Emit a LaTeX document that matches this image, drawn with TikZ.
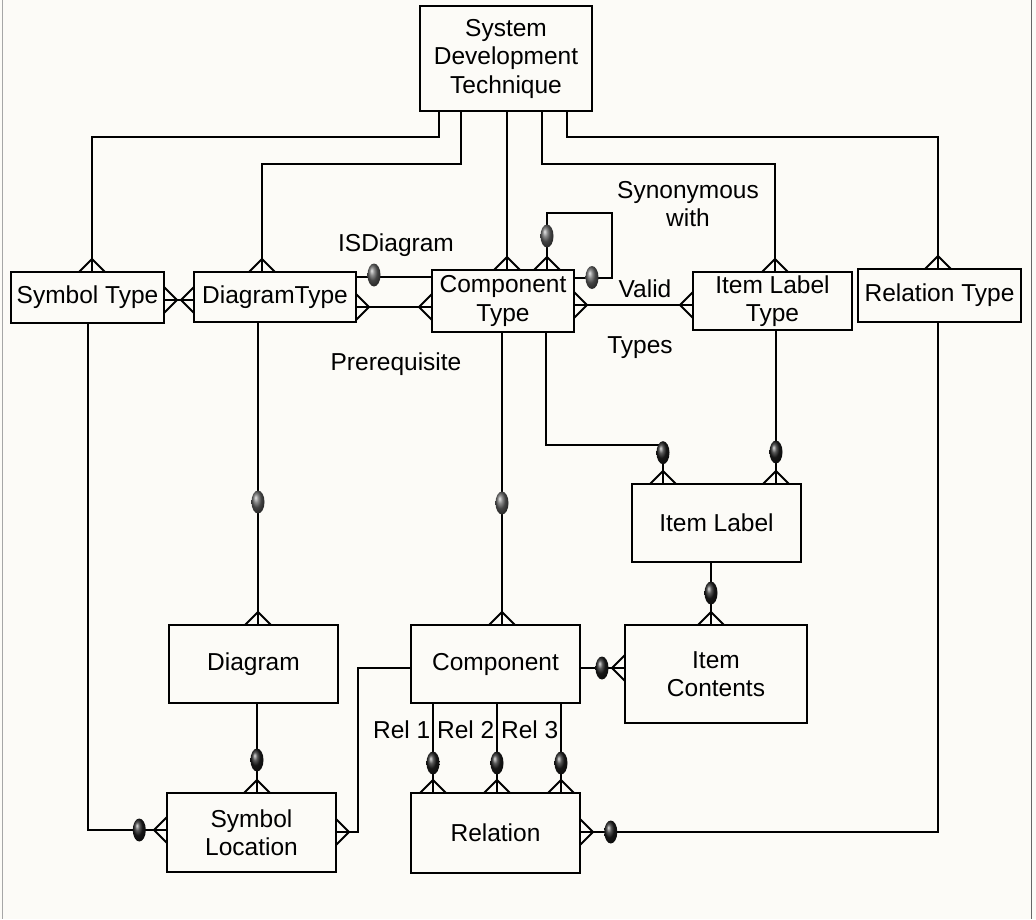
\documentclass[tikz,border=0pt]{standalone}
\usepackage{fontspec}
\setmainfont{Liberation Sans}
\usetikzlibrary{calc}

% one-or-many markers
\tikzset{
  link/.style={line width=1.9pt, line join=miter},
  ent/.style={draw, line width=2.2pt, rectangle, inner sep=0pt, outer sep=0pt,
              align=center, font=\fontsize{24.5}{28.5}\selectfont},
  lbl/.style={inner sep=0pt, align=center, font=\fontsize{24.5}{28.5}\selectfont},
  crowT/.pic={\draw[link] (-13,0) -- (0,-13) -- (13,0);},
  crowL/.pic={\draw[link] (0,-13) -- (-13,0) -- (0,13);},
  crowR/.pic={\draw[link] (0,-13) -- (13,0) -- (0,13);},
}
% optionality ovals
\newcommand\lightdot[1]{\shade[ball color=black!62] (#1) ellipse [x radius=6.5pt, y radius=11.5pt];}
\newcommand\darkdot[1]{\shade[ball color=black!88] (#1) ellipse [x radius=6.5pt, y radius=11.5pt];}

\begin{document}
\begin{tikzpicture}[x=1pt,y=-1pt]
% page
\fill[color={rgb,255:red,252;green,251;blue,247}] (0,0) rectangle (1036,919);
\useasboundingbox (0,0) rectangle (1036,919);
\draw[black!35, line width=1pt] (2.5,0) -- (2.5,919);
\draw[black!60, line width=1pt] (1031,0) -- (1031,919);

% entities
\node[ent, minimum width=172, minimum height=105] (sdt) at (506,58.5) {System\\Development\\Technique};
\node[ent, minimum width=153, minimum height=51] (symt) at (87.5,297.5) {Symbol Type};
\node[ent, minimum width=162, minimum height=50] (diat) at (275,297) {DiagramType};
\node[ent, minimum width=142, minimum height=62] (ctype) at (503,301) {Component\\Type};
\node[ent, minimum width=159, minimum height=58] (iltype) at (772.5,301) {Item Label\\Type};
\node[ent, minimum width=163, minimum height=53] (reltype) at (939.5,295.5) {Relation Type};
\node[ent, minimum width=169, minimum height=78] (ilabel) at (716.5,523) {Item Label};
\node[ent, minimum width=182, minimum height=98] (icont) at (716,674) {Item\\Contents};
\node[ent, minimum width=169, minimum height=78] (comp) at (495.5,664) {Component};
\node[ent, minimum width=169, minimum height=78] (diag) at (253.5,664) {Diagram};
\node[ent, minimum width=169, minimum height=79] (symloc) at (251.5,832.5) {Symbol\\Location};
\node[ent, minimum width=169, minimum height=80] (rel) at (495.5,833) {Relation};

% relationship names
\node[lbl] (isdiag) at (396,245) {ISDiagram};
\node[lbl] (prereq) at (396,364) {Prerequisite};
\node[lbl] (synon) at (688,204) {Synonymous\\with};
\node[lbl] (valid) at (645,289) {Valid};
\node[lbl] (types) at (640,348) {Types};
\node[lbl, anchor=east] (rel1) at (430.5,730) {Rel 1};
\node[lbl, anchor=east] (rel2) at (494.5,730) {Rel 2};
\node[lbl, anchor=east] (rel3) at (558.5,730) {Rel 3};

% technique to its types
\draw[link] (sdt.south -| 439,0) -- (439,137) -- (92,137) -- (symt.north -| 92,0);
\pic at (symt.north -| 92,0) {crowT};
\draw[link] (sdt.south -| 461,0) -- (461,164) -- (262,164) -- (diat.north -| 262,0);
\pic at (diat.north -| 262,0) {crowT};
\draw[link] (sdt.south -| 507,0) -- (ctype.north -| 507,0);
\pic at (ctype.north -| 507,0) {crowT};
\draw[link] (sdt.south -| 542,0) -- (542,164) -- (775,164) -- (iltype.north -| 775,0);
\pic at (iltype.north -| 775,0) {crowT};
\draw[link] (sdt.south -| 567,0) -- (567,137) -- (938,137) -- (reltype.north -| 938,0);
\pic at (reltype.north -| 938,0) {crowT};

% symbol type -- diagram type
\draw[link] (symt.east |- 0,300) -- (diat.west |- 0,300);
\pic at (symt.east |- 0,300) {crowR};
\pic at (diat.west |- 0,300) {crowL};

% ISDiagram and Prerequisite
\draw[link] (diat.east |- 0,277) -- (ctype.west |- 0,277);
\lightdot{374,275}
\draw[link] (diat.east |- 0,307) -- (ctype.west |- 0,307);
\pic at (diat.east |- 0,307) {crowR};
\pic at (ctype.west |- 0,307) {crowL};

% Synonymous with (self loop)
\draw[link] (ctype.north -| 547,0) -- (547,213) -- (612,213) -- (612,278) -- (ctype.east |- 0,278);
\pic at (ctype.north -| 547,0) {crowT};
\lightdot{547,236}
\lightdot{592,277.5}

% Valid Types
\draw[link] (ctype.east |- 0,305) -- (iltype.west |- 0,305);
\pic at (ctype.east |- 0,305) {crowR};
\pic at (iltype.west |- 0,305) {crowL};

% component type / item label type to item label
\draw[link] (ctype.south -| 546,0) -- (546,445) -- (663,445) -- (ilabel.north -| 663,0);
\darkdot{663,452.7}
\pic at (ilabel.north -| 663,0) {crowT};
\draw[link] (iltype.south -| 776,0) -- (ilabel.north -| 776,0);
\darkdot{776,452}
\pic at (ilabel.north -| 776,0) {crowT};

% item label to item contents
\draw[link] (ilabel.south -| 711,0) -- (icont.north -| 711,0);
\darkdot{711,593}
\pic at (icont.north -| 711,0) {crowT};

% component type to component
\draw[link] (ctype.south -| 502,0) -- (comp.north -| 502,0);
\lightdot{502,503}
\pic at (comp.north -| 502,0) {crowT};

% diagram type to diagram
\draw[link] (diat.south -| 258,0) -- (diag.north -| 258,0);
\lightdot{258,502}
\pic at (diag.north -| 258,0) {crowT};

% symbol type to symbol location
\draw[link] (symt.south -| 88,0) -- (88,830) -- (symloc.west |- 0,830);
\darkdot{139.3,830}
\pic at (symloc.west |- 0,830) {crowL};

% diagram to symbol location
\draw[link] (diag.south -| 257,0) -- (symloc.north -| 257,0);
\darkdot{257,760}
\pic at (symloc.north -| 257,0) {crowT};

% component to symbol location
\draw[link] (comp.west |- 0,668) -- (358,668) -- (358,832) -- (symloc.east |- 0,832);
\pic at (symloc.east |- 0,832) {crowR};

% component to item contents
\draw[link] (comp.east |- 0,668) -- (icont.west |- 0,668);
\darkdot{602,668}
\pic at (icont.west |- 0,668) {crowL};

% component to relation (three roles)
\foreach \rx in {433,497,561} {
  \draw[link] (comp.south -| \rx,0) -- (rel.north -| \rx,0);
  \darkdot{\rx,763}
  \pic at (rel.north -| \rx,0) {crowT};
}

% relation type to relation
\draw[link] (rel.east |- 0,832) -- (938,832) -- (reltype.south -| 938,0);
\pic at (rel.east |- 0,832) {crowR};
\darkdot{610.8,832}
\end{tikzpicture}
\end{document}
